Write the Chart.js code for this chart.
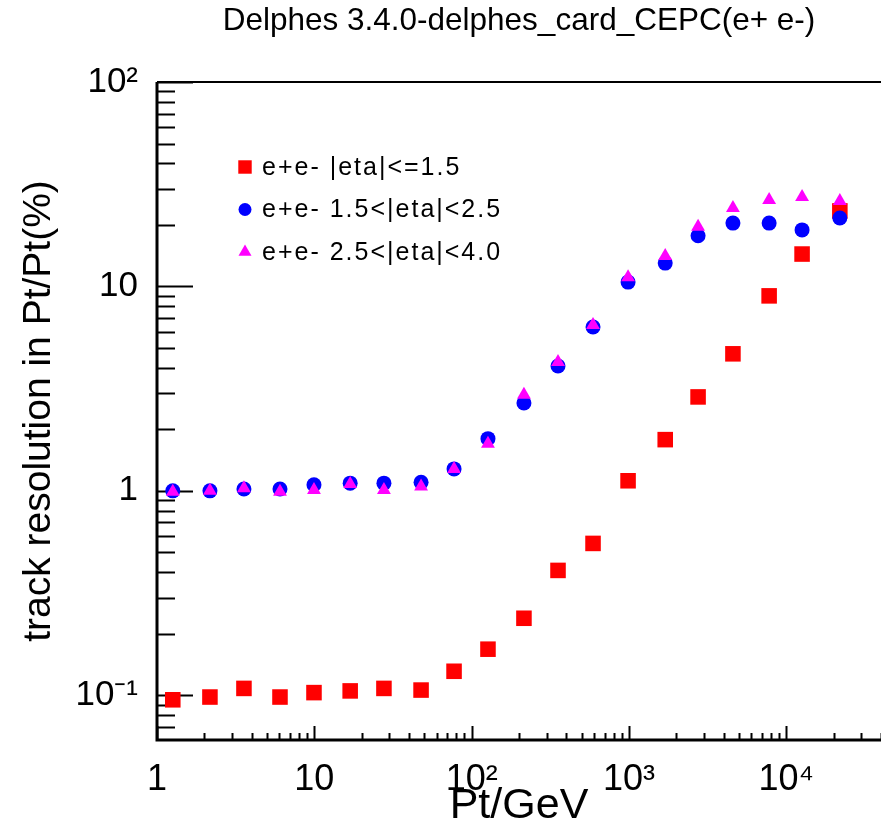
<!DOCTYPE html>
<html>
<head>
<meta charset="utf-8">
<script src="https://cdn.jsdelivr.net/npm/chart.js@4/dist/chart.umd.min.js"></script>
<style>
  html, body { margin: 0; padding: 0; background: #fff; overflow: hidden; }
  #wrap { width: 881px; height: 828px; }
  canvas { display: block; }
</style>
</head>
<body>
<div id="wrap"><canvas id="c"></canvas></div>
<script>
// Pt bins (GeV)
const ptValues = [1.26, 2.17, 3.57, 6.05, 9.95, 16.9, 27.7, 47.7, 77.3, 127,
                  215, 354, 591, 987, 1700, 2750, 4580, 7780, 12600, 21900];
// resolution in %
const resCentral = [0.095, 0.098, 0.108, 0.098, 0.103, 0.105, 0.108, 0.106, 0.131, 0.168,
                    0.238, 0.408, 0.553, 1.12, 1.78, 2.88, 4.68, 8.99, 14.4, 23.4];
const resMiddle = [1.00, 1.00, 1.02, 1.02, 1.07, 1.09, 1.09, 1.10, 1.28, 1.80,
                   2.69, 4.08, 6.33, 10.5, 13.0, 17.7, 20.4, 20.4, 18.9, 21.6];
const resForward = [0.99, 1.00, 1.03, 0.99, 1.01, 1.08, 1.01, 1.05, 1.28, 1.70,
                    2.95, 4.27, 6.47, 11.1, 14.1, 19.6, 24.2, 26.5, 27.4, 26.2];

const seriesLabels = ['e+e- |eta|<=1.5', 'e+e- 1.5<|eta|<2.5', 'e+e- 2.5<|eta|<4.0'];

const xTickValues = [1, 10, 100, 1000, 10000];
const xTickLabels = ['1', '10', '10²', '10³', '10⁴'];
const yTickValues = [0.1, 1, 10, 100];
const yTickLabels = ['10⁻¹', '1', '10', '10²'];

const FONT = "'Liberation Sans', Arial, Helvetica, sans-serif";

function pts(ys){ return ptValues.map((x, i) => ({x: x, y: ys[i]})); }

// ROOT-like frame: inner ticks, axis lines, top line
const rootFrame = {
  id: 'rootFrame',
  beforeDatasetsDraw(chart){
    const {ctx, chartArea: a, scales: {x, y}} = chart;
    ctx.save();
    ctx.strokeStyle = '#000';
    ctx.lineWidth = 2;
    ctx.beginPath();
    for (let e = -2; e <= 2; e++) {
      for (let k = 1; k <= 9; k++) {
        const v = k * Math.pow(10, e);
        if (v < y.min * 0.999 || v > y.max * 1.001) continue;
        const py = Math.round(y.getPixelForValue(v)) + 0.5;
        ctx.moveTo(a.left, py);
        ctx.lineTo(a.left + (k === 1 ? 36 : 18), py);
      }
    }
    for (let e = 0; e <= 5; e++) {
      for (let k = 1; k <= 9; k++) {
        const v = k * Math.pow(10, e);
        if (v < x.min * 0.999 || v > x.max) continue;
        const px = Math.round(x.getPixelForValue(v)) + 0.5;
        ctx.moveTo(px, a.bottom);
        ctx.lineTo(px, a.bottom - (k === 1 ? 14 : 7));
      }
    }
    ctx.stroke();
    // axes
    ctx.lineWidth = 3;
    ctx.beginPath();
    ctx.moveTo(a.left, a.top);
    ctx.lineTo(a.left, a.bottom);
    ctx.lineTo(a.right, a.bottom);
    ctx.stroke();
    ctx.lineWidth = 2;
    ctx.beginPath();
    ctx.moveTo(a.left, a.top);
    ctx.lineTo(a.right, a.top);
    ctx.stroke();
    ctx.restore();
  }
};

// legend box inside the frame, like TLegend
const rootLegend = {
  id: 'rootLegend',
  afterDatasetsDraw(chart){
    const {ctx, chartArea: a} = chart;
    const sizes = {rect: 9.5, circle: 6.5, triangle: 7.5};
    ctx.save();
    chart.data.datasets.forEach((ds, i) => {
      const cy = a.top + 85 + i * 42.5;
      ctx.fillStyle = ds.pointBackgroundColor;
      Chart.helpers.drawPoint(ctx, {pointStyle: ds.pointStyle, radius: sizes[ds.pointStyle], borderWidth: 0, rotation: 0}, a.left + 88, cy);
      ctx.fillStyle = '#000';
      ctx.font = '25px ' + FONT;
      ctx.letterSpacing = '2px';
      ctx.textBaseline = 'middle';
      ctx.textAlign = 'left';
      ctx.fillText(ds.label, a.left + 105, cy + 1);
      ctx.letterSpacing = '0px';
    });
    ctx.restore();
  }
};

new Chart(document.getElementById('c'), {
  type: 'scatter',
  data: {
    datasets: [
      {label: seriesLabels[0], data: pts(resCentral), pointStyle: 'rect', pointRadius: 11,
       pointBackgroundColor: '#ff0000', pointBorderWidth: 0, order: 3},
      {label: seriesLabels[1], data: pts(resMiddle), pointStyle: 'circle', pointRadius: 7.5,
       pointBackgroundColor: '#0000ff', pointBorderWidth: 0, order: 2},
      {label: seriesLabels[2], data: pts(resForward), pointStyle: 'triangle', pointRadius: 8,
       pointBackgroundColor: '#ff00ff', pointBorderWidth: 0, order: 1}
    ]
  },
  options: {
    responsive: true,
    maintainAspectRatio: false,
    animation: false,
    layout: {padding: 0, autoPadding: false},
    plugins: {
      legend: {display: false},
      tooltip: {enabled: false},
      title: {
        display: true,
        text: 'Delphes 3.4.0-delphes_card_CEPC(e+ e-)',
        color: '#000',
        fullSize: false,
        font: {family: FONT, size: 31.5, weight: 'normal', lineHeight: 1.2},
        padding: {top: 2, bottom: 42.2}
      }
    },
    scales: {
      x: {
        type: 'logarithmic',
        min: 1, max: 40000,
        grid: {display: false, drawTicks: false},
        border: {display: false},
        afterBuildTicks: s => { s.ticks = xTickValues.map(v => ({value: v})); },
        afterFit: s => { s.height = 88; s.paddingRight = 0; s.paddingLeft = 0; },
        ticks: {
          autoSkip: false, maxRotation: 0, padding: 18, color: '#000',
          font: {family: FONT, size: 36},
          callback: (v, i) => xTickLabels[i]
        },
        title: {
          display: true, text: 'Pt/GeV', color: '#000',
          font: {family: FONT, size: 43, lineHeight: 1},
          padding: {top: 0, bottom: 0}
        }
      },
      y: {
        type: 'logarithmic',
        min: 0.0604, max: 100,
        grid: {display: false, drawTicks: false},
        border: {display: false},
        afterBuildTicks: s => { s.ticks = yTickValues.map(v => ({value: v})); },
        afterFit: s => { s.width = 157; s.paddingTop = 0; s.paddingBottom = 0; },
        ticks: {
          autoSkip: false, padding: 19, color: '#000',
          font: {family: FONT, size: 35},
          callback: (v, i) => yTickLabels[i]
        },
        title: {
          display: true, text: 'track resolution in Pt/Pt(%)', color: '#000',
          font: {family: FONT, size: 39, lineHeight: 1},
          padding: {top: 20, bottom: 0}
        }
      }
    }
  },
  plugins: [rootFrame, rootLegend]
});
</script>
</body>
</html>
